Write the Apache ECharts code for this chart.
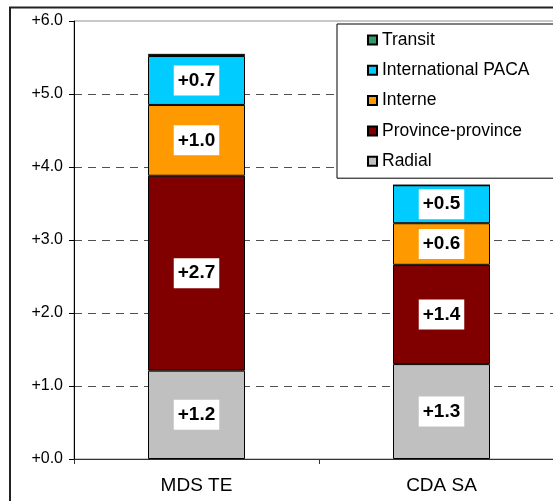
<!DOCTYPE html>
<html>
<head>
<meta charset="utf-8">
<script src="https://cdn.jsdelivr.net/npm/echarts@6/dist/echarts.min.js"></script>
<style>
html,body{margin:0;padding:0;background:#fff;}
#main{width:553px;height:501px;}
</style>
</head>
<body>
<div id="main"></div>
<script>
const categories = ['MDS TE', 'CDA SA'];
const radial = [1.21, 1.30];
const provinceProvince = [2.67, 1.36];
const interne = [0.97, 0.57];
const internationalPaca = [0.67, 0.52];
const transit = [0.03, 0];
const yTicks = [0, 1, 2, 3, 4, 5, 6];

const FONT = '"Liberation Sans", Arial, sans-serif';

const labelCfg = {
  show: true,
  position: 'inside',
  backgroundColor: '#fff',
  color: '#000',
  fontWeight: 'bold',
  fontFamily: FONT,
  fontSize: 19,
  padding: [6, 4, 5, 4],
  formatter: p => '+' + p.value.toFixed(1)
};

function mk(name, data, color, showLabel) {
  return {
    name: name,
    type: 'bar',
    stack: 'total',
    barWidth: 97,
    data: data,
    itemStyle: { color: color, borderColor: '#000', borderWidth: 1 },
    label: showLabel ? labelCfg : { show: false },
    emphasis: { disabled: true },
    animation: false
  };
}

const chart = echarts.init(document.getElementById('main'), null, { renderer: 'canvas' });
chart.setOption({
  animation: false,
  backgroundColor: '#fff',
  graphic: [{
    type: 'rect',
    z: -10,
    shape: { x: 10, y: 7.5, width: 700, height: 700 },
    style: { fill: 'none', stroke: '#222', lineWidth: 2 }
  }],
  grid: {
    left: 74, top: 21, width: 490, height: 438,
    outerBoundsMode: 'none',
    containLabel: false,
    show: true, borderColor: '#909090', borderWidth: 1, backgroundColor: 'transparent'
  },
  legend: {
    orient: 'vertical',
    left: 337, top: 24,
    data: ['Transit', 'International PACA', 'Interne', 'Province-province', 'Radial'],
    icon: 'rect',
    itemWidth: 9, itemHeight: 9,
    itemGap: 12.3,
    padding: [7, 80, 8, 30],
    backgroundColor: '#fff',
    borderColor: '#000',
    borderWidth: 1,
    borderRadius: 0,
    textStyle: { color: '#000', fontSize: 17.5, lineHeight: 17.5, fontFamily: FONT },
    selectedMode: false
  },
  xAxis: {
    type: 'category',
    data: categories,
    axisLine: { lineStyle: { color: '#333', width: 1 } },
    axisTick: { show: true, length: 5, lineStyle: { color: '#333' } },
    axisLabel: { color: '#000', fontSize: 19, fontFamily: FONT, margin: 17 },
    splitLine: { show: false }
  },
  yAxis: {
    type: 'value',
    min: yTicks[0], max: yTicks[yTicks.length - 1], interval: 1,
    axisLine: { show: true, lineStyle: { color: '#000', width: 1 } },
    axisTick: { show: true, length: 5, lineStyle: { color: '#000' } },
    axisLabel: {
      color: '#000', fontSize: 16, fontFamily: FONT, margin: 11,
      formatter: v => '+' + v.toFixed(1)
    },
    splitLine: {
      show: true, showMinLine: false, showMaxLine: false,
      lineStyle: { color: '#505050', type: [8, 6], width: 1 }
    }
  },
  series: [
    mk('Radial', radial, '#C0C0C0', true),
    mk('Province-province', provinceProvince, '#800000', true),
    mk('Interne', interne, '#FF9900', true),
    mk('International PACA', internationalPaca, '#00CCFF', true),
    mk('Transit', transit, '#339966', false)
  ]
});
</script>
</body>
</html>
